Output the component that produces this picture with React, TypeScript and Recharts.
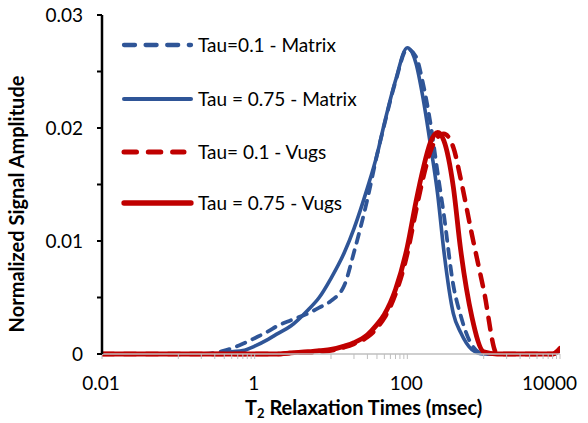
import React from 'react';
import { LineChart, Line, XAxis, YAxis } from 'recharts';

// T2 relaxation times (msec)
const T2 = [0.01, 0.1, 0.2, 0.3, 0.4, 0.5, 0.7, 1, 1.5, 2, 3, 5, 7, 10, 15, 20, 30, 40, 50, 70, 100, 130, 160, 200, 250, 300, 400, 500, 700, 1000, 1500, 2000, 5000, 8000, 10000];

const tau01Matrix = [0, 0, 0, 0.0001, 0.0003, 0.0005, 0.0009, 0.0014, 0.002, 0.0025, 0.003, 0.0036, 0.0041, 0.0047, 0.0061, 0.009, 0.0137, 0.0176, 0.0203, 0.0241, 0.027, 0.0263, 0.024, 0.0205, 0.016, 0.0124, 0.0061, 0.0034, 0.0008, 0, 0, 0, 0, 0, 0.0003];
const tau075Matrix = [0, 0, 0, 0, 0.0001, 0.0002, 0.0003, 0.0007, 0.0013, 0.0018, 0.0025, 0.0039, 0.005, 0.0067, 0.009, 0.0111, 0.0147, 0.0176, 0.0204, 0.0242, 0.0271, 0.0257, 0.0227, 0.0186, 0.0141, 0.0092, 0.0036, 0.0019, 0.0004, 0, 0, 0, 0, 0, 0.0004];
const tau01Vugs = [0, 0, 0, 0, 0, 0, 0, 0, 0, 0, 0.0001, 0.0001, 0.0002, 0.0003, 0.0006, 0.0009, 0.0015, 0.0023, 0.0032, 0.0053, 0.0089, 0.0127, 0.0155, 0.0179, 0.0192, 0.0195, 0.0183, 0.0155, 0.0106, 0.0057, 0, 0, 0, 0, 0.0004];
const tau075Vugs = [0, 0, 0, 0, 0, 0, 0, 0, 0, 0, 0.0001, 0.0002, 0.0003, 0.0004, 0.0007, 0.001, 0.0017, 0.0026, 0.0035, 0.0057, 0.0095, 0.0135, 0.0163, 0.0187, 0.0196, 0.0189, 0.0148, 0.0092, 0.0033, 0.0002, 0, 0, 0, 0, 0.0005];

const X_MAJOR = [0.01, 1, 100, 10000];
const X_MINOR = [0.1, 0.2, 0.3, 0.4, 0.5, 0.6, 0.7, 0.8, 0.9, 10, 20, 30, 40, 50, 60, 70, 80, 90, 1000, 2000, 3000, 4000, 5000, 6000, 7000, 8000, 9000];
const Y_TICKS = [0, 0.005, 0.01, 0.015, 0.02, 0.025, 0.03];
const Y_LABELED = [0, 0.01, 0.02, 0.03];

const SERIES = [
  { key: 'tau01Matrix', name: 'Tau=0.1 - Matrix', color: '#2F5597', dash: '9 8', legendDash: '11 10.6', width: 3.8, legendLen: 71 },
  { key: 'tau075Matrix', name: 'Tau = 0.75 - Matrix', color: '#2F5597', dash: undefined, legendDash: undefined, width: 3.6, legendLen: 71 },
  { key: 'tau01Vugs', name: 'Tau= 0.1 - Vugs', color: '#C00000', dash: '12 10', legendDash: '12.5 11.8', width: 4.5, legendLen: 64 },
  { key: 'tau075Vugs', name: 'Tau = 0.75 - Vugs', color: '#C00000', dash: undefined, legendDash: undefined, width: 4.8, legendLen: 71 },
];

const data = T2.map((t, i) => ({
  t,
  tau01Matrix: tau01Matrix[i],
  tau075Matrix: tau075Matrix[i],
  tau01Vugs: tau01Vugs[i],
  tau075Vugs: tau075Vugs[i],
}));

const FONT = 'Lato, "Open Sans", sans-serif';
const X_TICKS = [...X_MAJOR, ...X_MINOR].sort((a, b) => a - b);

const XTick = (props: any) => {
  const { x, y, payload } = props;
  const v = payload.value;
  if (!X_MAJOR.includes(v)) return null;
  const last = v === X_MAJOR[X_MAJOR.length - 1];
  return (
    <text x={last ? x + 17 : x - 1} y={y + 29} textAnchor={last ? 'end' : 'middle'} fontFamily={FONT} fontSize={19} fill="#000">
      {String(v)}
    </text>
  );
};

const YTick = (props: any) => {
  const { x, y, payload } = props;
  const v = payload.value;
  if (!Y_LABELED.some((l) => Math.abs(l - v) < 1e-9)) return null;
  return (
    <text x={x - 12} y={y} dy="0.36em" textAnchor="end" fontFamily={FONT} fontSize={19} fill="#000">
      {String(v)}
    </text>
  );
};

export default function App() {
  const legendRows = [45, 99, 152, 203];
  return (
    <div style={{ position: 'absolute', left: 0, top: 0, width: 588, height: 423, background: '#fff', fontFamily: FONT }}>
      <LineChart width={588} height={423} data={data} margin={{ top: 15, right: 28, bottom: 0, left: 0 }}>
        <XAxis
          dataKey="t"
          type="number"
          scale="log"
          domain={[0.01, 10000]}
          allowDataOverflow
          ticks={X_TICKS}
          interval={0}
          tick={XTick}
          tickSize={5}
          height={69}
          axisLine={{ stroke: '#BFBFBF', strokeWidth: 1.5 }}
          tickLine={{ stroke: '#BFBFBF', strokeWidth: 1 }}
        />
        <YAxis
          type="number"
          domain={[0, 0.03]}
          ticks={Y_TICKS}
          interval={0}
          width={102}
          tick={YTick}
          tickSize={5}
          axisLine={{ stroke: '#000', strokeWidth: 2.5 }}
          tickLine={{ stroke: '#000', strokeWidth: 2 }}
        />
        {SERIES.map((s) => (
          <Line
            key={s.key}
            dataKey={s.key}
            name={s.name}
            type="monotone"
            stroke={s.color}
            strokeWidth={s.width}
            strokeDasharray={s.dash}
            strokeLinecap="round"
            strokeLinejoin="round"
            dot={false}
            activeDot={false}
            isAnimationActive={false}
          />
        ))}
      </LineChart>
      <svg width={588} height={423} style={{ position: 'absolute', left: 0, top: 0, pointerEvents: 'none' }}>
        {SERIES.map((s, i) => (
          <g key={s.key}>
            <line
              x1={124}
              x2={124 + s.legendLen - 4}
              y1={legendRows[i]}
              y2={legendRows[i]}
              stroke={s.color}
              strokeWidth={s.width + 0.5}
              strokeDasharray={s.legendDash}
              strokeLinecap="round"
            />
            <text x={198} y={legendRows[i]} dy="0.36em" fontFamily={FONT} fontSize={19} fill="#000">
              {s.name}
            </text>
          </g>
        ))}
        <text x={245} y={415} fontFamily={FONT} fontSize={20} fontWeight="bold" fill="#000">
          T<tspan fontSize={13} dy={3}>2</tspan>
          <tspan dy={-3}> Relaxation Times (msec)</tspan>
        </text>
        <text
          transform="translate(24, 204) rotate(-90)"
          textAnchor="middle"
          fontFamily={FONT}
          fontSize={20}
          fontWeight="bold"
          fill="#000"
        >
          Normalized Signal Amplitude
        </text>
      </svg>
    </div>
  );
}
